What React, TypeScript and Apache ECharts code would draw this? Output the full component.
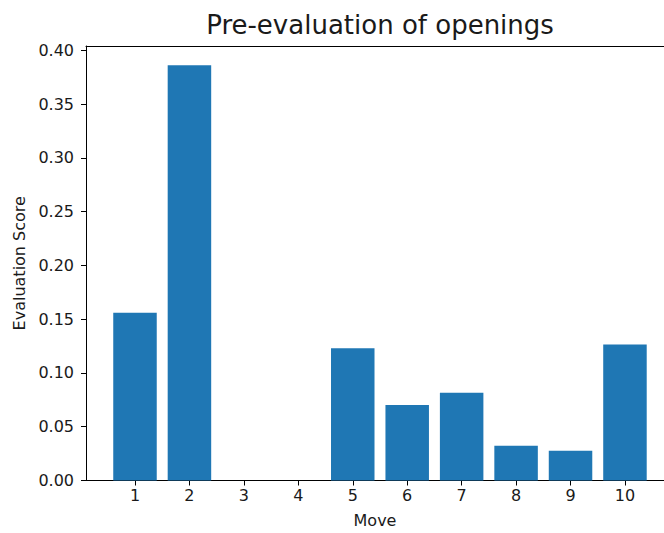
import React, { useEffect, useRef } from "react";
import * as echarts from "echarts";

const moves = [1, 2, 3, 4, 5, 6, 7, 8, 9, 10];
const scores = [0.156, 0.386, 0, 0, 0.123, 0.0703, 0.0815, 0.0324, 0.0277, 0.1264];
const yTicks = [0, 0.05, 0.1, 0.15, 0.2, 0.25, 0.3, 0.35, 0.4];
const titleText = "Pre-evaluation of openings";
const xName = "Move";
const yName = "Evaluation Score";

const FONT = "DejaVu Sans";
const TXT = "#1a1a1a";
const FS = 16;

export default function App() {
  const ref = useRef<HTMLDivElement>(null);
  useEffect(() => {
    if (!ref.current) return;
    const chart = echarts.init(ref.current, null, { renderer: "svg" });
    const axisLine = { show: true, lineStyle: { color: "#000", width: 1 } };
    chart.setOption({
      animation: false,
      backgroundColor: "#fff",
      textStyle: { fontFamily: FONT },
      graphic: [
        {
          type: "text",
          x: 380,
          y: 25,
          style: {
            text: titleText,
            fontFamily: FONT,
            fontSize: 26,
            fill: TXT,
            textAlign: "center",
            textVerticalAlign: "middle",
          },
        },
      ],
      grid: { left: 86, top: 46, right: 0, bottom: 50.3, containLabel: false },
      xAxis: [
        {
          type: "value",
          min: 0.1,
          max: 10.717,
          position: "bottom",
          axisLine,
          splitLine: { show: false },
          axisTick: { show: true, length: 5, customValues: moves, lineStyle: { color: "#000" } },
          axisLabel: {
            customValues: moves,
            fontSize: FS,
            fontFamily: FONT,
            color: TXT,
            margin: 7,
            formatter: (v: number) => String(Math.round(v)),
          },
          name: xName,
          nameLocation: "middle",
          nameGap: 31.5,
          nameTextStyle: { fontSize: FS, fontFamily: FONT, color: TXT },
        },
        {
          type: "value",
          min: 0.1,
          max: 10.717,
          position: "top",
          axisLine,
          splitLine: { show: false },
          axisTick: { show: false },
          axisLabel: { show: false },
        },
      ],
      yAxis: [
        {
          type: "value",
          min: 0,
          max: 0.404,
          axisLine,
          splitLine: { show: false },
          axisTick: { show: true, length: 5, customValues: yTicks, lineStyle: { color: "#000" } },
          axisLabel: {
            customValues: yTicks,
            fontSize: FS,
            fontFamily: FONT,
            color: TXT,
            margin: 12,
            formatter: (v: number) => v.toFixed(2),
          },
          name: yName,
          nameLocation: "middle",
          nameRotate: 90,
          nameGap: 55,
          nameTextStyle: { fontSize: FS, fontFamily: FONT, color: TXT },
        },
      ],
      series: [
        {
          type: "bar",
          xAxisIndex: 0,
          yAxisIndex: 0,
          barWidth: 43.5,
          itemStyle: { color: "#1f77b4" },
          data: moves.map((m, i) => [m, scores[i]]),
        },
      ],
    });
    return () => chart.dispose();
  }, []);
  return (
    <div
      ref={ref}
      style={{ position: "absolute", left: 0, top: 0, width: 664, height: 533 }}
    />
  );
}
